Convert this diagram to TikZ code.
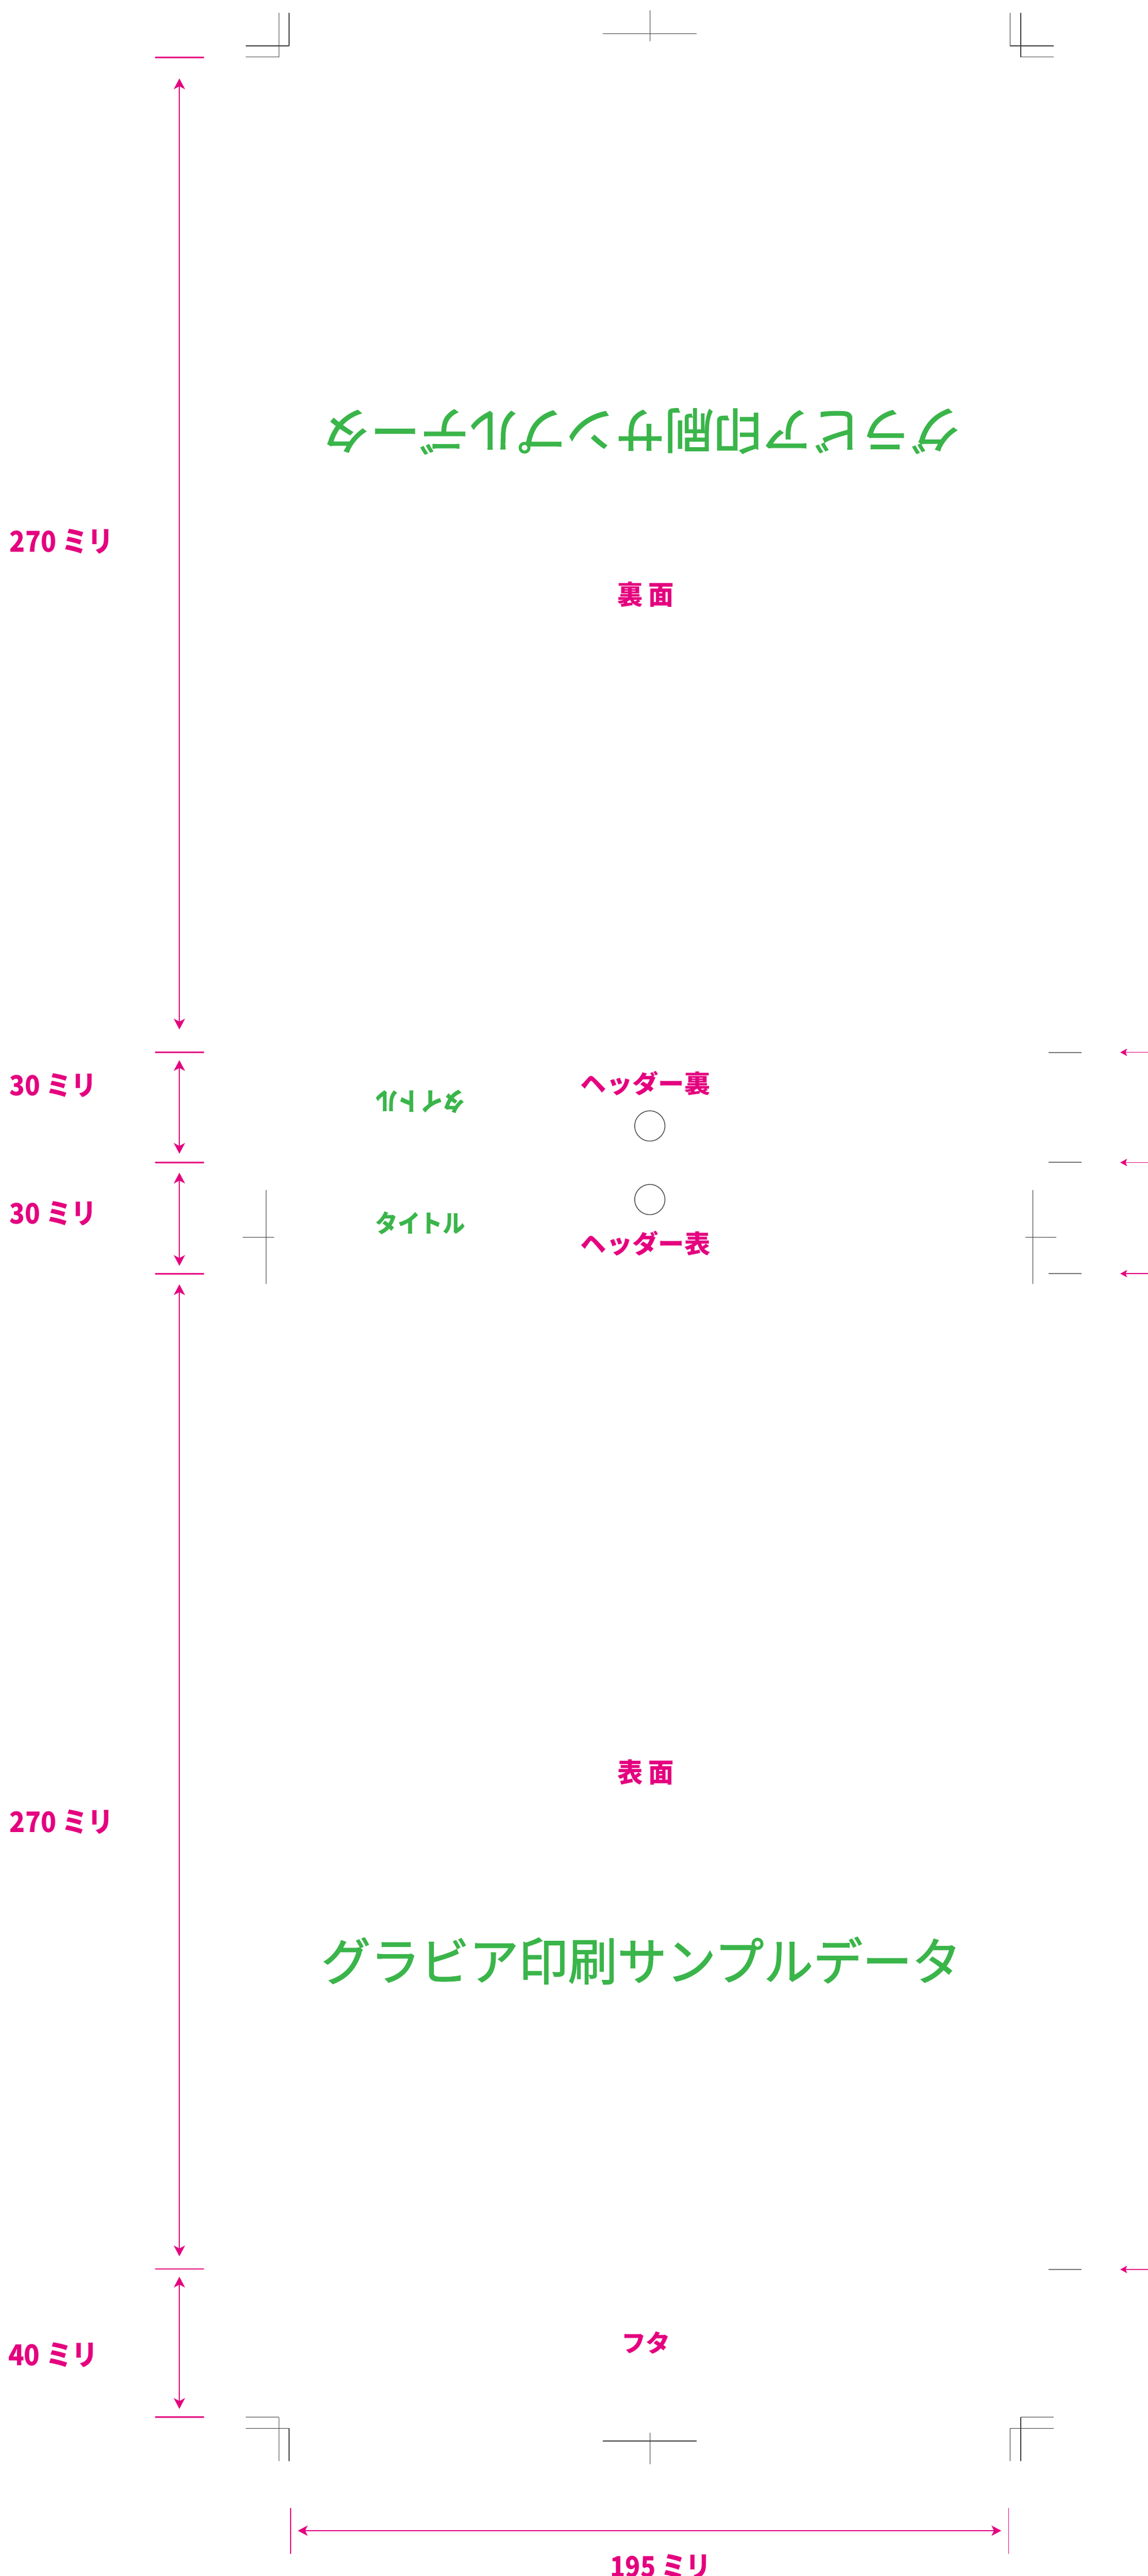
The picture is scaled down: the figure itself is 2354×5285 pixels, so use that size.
\documentclass[tikz,border=0pt]{standalone}
\usepackage{fontspec}
\usepackage{graphicx}
\newfontfamily\jp{Noto Sans CJK JP}
\newfontfamily\jpg{Noto Sans CJK JP}[FakeBold=1.6]
\usetikzlibrary{arrows.meta}
\definecolor{mag}{HTML}{E4007F}
\definecolor{grn}{HTML}{3AB54A}
\definecolor{cropc}{HTML}{3A3A3A}
\newcommand{\fitbox}[3]{\resizebox*{#1pt}{#2pt}{#3}}
\begin{document}
\begin{tikzpicture}[x=1pt,y=-1pt,
  mlab/.style={inner sep=0pt, outer sep=0pt, text=mag, font=\jp\bfseries},
  glab/.style={inner sep=0pt, outer sep=0pt, text=grn, font=\jpg},
  gslab/.style={inner sep=0pt, outer sep=0pt, text=grn, font=\jp\bfseries},
  magtick/.style={draw=mag, line width=3pt},
  dimarr/.style={draw=mag, line width=2pt,
    {Stealth[length=22pt,width=23pt,inset=6pt]}-{Stealth[length=22pt,width=23pt,inset=6pt]}},
  hdimarr/.style={draw=mag, line width=2pt,
    {Stealth[length=20pt,width=21pt,inset=5pt]}-{Stealth[length=20pt,width=21pt,inset=5pt]}},
  sidearr/.style={draw=mag, line width=1.8pt, -{Stealth[length=14pt,width=15pt,inset=3pt]}},
  graytick/.style={draw=black!55, line width=2pt},
  cropline/.style={draw=cropc, line width=1.3pt},
  hole/.style={circle, draw=black!75, line width=1.5pt, minimum size=62pt, inner sep=0pt}]
\useasboundingbox (0,0) rectangle (2354,5285);

% ---------- crop marks ----------
% top-left
\draw[cropline] (572,26) -- (572,117);
\draw[cropline] (593,26) -- (593,94);
\draw[cropline] (504,94) -- (593,94);
\draw[cropline] (504,117) -- (572,117);
% top-right
\draw[cropline] (2072,26) -- (2072,94);
\draw[cropline] (2094,26) -- (2094,117);
\draw[cropline] (2072,94) -- (2162,94);
\draw[cropline] (2094,117) -- (2162,117);
% top centre
\draw[cropline] (1333,21) -- (1333,85);
\draw[cropline] (1237,69) -- (1429,69);
% bottom-left
\draw[cropline] (504,4959) -- (572,4959);
\draw[cropline] (504,4982) -- (593,4982);
\draw[cropline] (572,4959) -- (572,5049);
\draw[cropline] (593,4982) -- (593,5049);
% bottom-right
\draw[cropline] (2094,4959) -- (2162,4959);
\draw[cropline] (2072,4982) -- (2162,4982);
\draw[cropline] (2094,4959) -- (2094,5049);
\draw[cropline] (2072,4982) -- (2072,5049);
% bottom centre
\draw[cropline] (1333,4991) -- (1333,5056);
\draw[cropline] (1237,5008) -- (1429,5008);
% side registration marks
\draw[cropline] (546,2442) -- (546,2634);
\draw[cropline] (498,2538) -- (562,2538);
\draw[cropline] (2119,2442) -- (2119,2634);
\draw[cropline] (2103,2538) -- (2167,2538);

% ---------- left dimension ----------
\foreach \yy/\nm in {118/k0,2159/k1,2385/k2,2613/k3,4655/k4,4959/k5}{
  \coordinate (\nm L) at (318,\yy);
  \coordinate (\nm R) at (419,\yy);
  \draw[magtick] (\nm L) -- (\nm R);
}
\coordinate (a1s) at (368,161);  \coordinate (a1e) at (368,2112);
\coordinate (a2s) at (368,2175); \coordinate (a2e) at (368,2367);
\coordinate (a3s) at (368,2406); \coordinate (a3e) at (368,2597);
\coordinate (a4s) at (368,2635); \coordinate (a4e) at (368,4629);
\coordinate (a5s) at (368,4671); \coordinate (a5e) at (368,4942);
\draw[dimarr] (a1s) -- (a1e);
\draw[dimarr] (a2s) -- (a2e);
\draw[dimarr] (a3s) -- (a3e);
\draw[dimarr] (a4s) -- (a4e);
\draw[dimarr] (a5s) -- (a5e);

\node[mlab] (d270a) at (126,1110.5) {\fitbox{212}{51}{270 ミリ}};
\node[mlab] (d30a)  at (109,2226.5) {\fitbox{178}{49}{30 ミリ}};
\node[mlab] (d30b)  at (109,2490)   {\fitbox{178}{50}{30 ミリ}};
\node[mlab] (d270b) at (126,3738)   {\fitbox{212}{50}{270 ミリ}};
\node[mlab] (d40)   at (109,4831.5) {\fitbox{184}{51}{40 ミリ}};

% ---------- bottom dimension ----------
\coordinate (bL1) at (596,5145); \coordinate (bL2) at (596,5239);
\coordinate (bR1) at (2069,5145); \coordinate (bR2) at (2069,5239);
\draw[draw=mag, line width=2pt] (bL1) -- (bL2);
\draw[draw=mag, line width=2pt] (bR1) -- (bR2);
\coordinate (hs) at (611,5192); \coordinate (he) at (2054,5192);
\draw[hdimarr] (hs) -- (he);
\node[mlab] (d195) at (1355,5265.5) {\fitbox{206}{51}{195 ミリ}};

% ---------- right side marks ----------
\foreach \yy/\nm in {2159/r1,2385/r2,2613/r3,4656/r4}{
  \coordinate (\nm a) at (2151,\yy);
  \coordinate (\nm b) at (2219,\yy);
  \draw[graytick] (\nm a) -- (\nm b);
  \coordinate (\nm s) at (2370,\yy);
  \coordinate (\nm t) at (2298,\yy);
  \draw[sidearr] (\nm s) -- (\nm t);
}

% ---------- section labels ----------
\node[mlab] (ura)  at (1324.5,1220) {\fitbox{116}{52}{裏 面}};
\node[mlab] (omote) at (1324.5,3636) {\fitbox{116}{52}{表 面}};
\node[mlab] (hura) at (1324,2223)   {\fitbox{266}{50}{ヘッダー裏}};
\node[mlab] (homo) at (1324,2550.5) {\fitbox{266}{51}{ヘッダー表}};
\node[mlab] (futa) at (1325,4807)   {\fitbox{100}{46}{フタ}};

% ---------- header holes ----------
\node[hole] (hole1) at (1333,2310) {};
\node[hole] (hole2) at (1333,2461) {};

% ---------- green texts ----------
\node[glab] (titleB) at (1315.5,4022.5) {\fitbox{1312}{97}{グラビア印刷サンプルデータ}};
\node[glab, rotate=180] (titleT) at (1314,885) {\fitbox{1309}{94}{グラビア印刷サンプルデータ}};
\node[gslab] (smallB) at (862,2509.5) {\fitbox{184}{47}{タイトル}};
\node[gslab, rotate=180] (smallT) at (862,2260) {\fitbox{184}{48}{タイトル}};
\end{tikzpicture}
\end{document}
